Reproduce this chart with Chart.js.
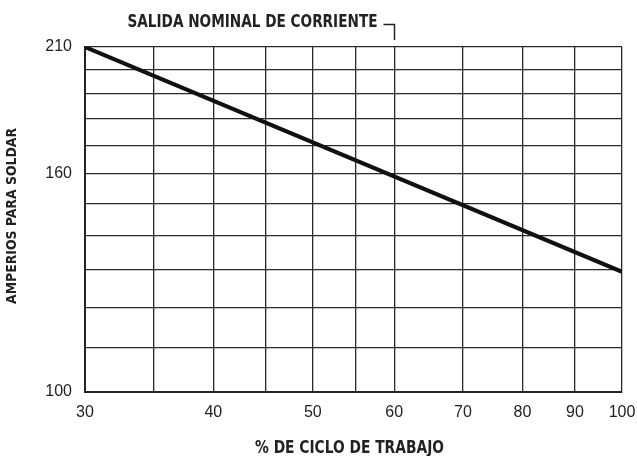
<!DOCTYPE html>
<html>
<head>
<meta charset="utf-8">
<script src="https://cdn.jsdelivr.net/npm/chart.js@4"></script>
<style>
  html, body { margin: 0; padding: 0; background: #fff; }
  #wrap { width: 637px; height: 456px; }
</style>
</head>
<body>
<div id="wrap"><canvas id="dutyChart"></canvas></div>
<script>
// datos (escala log-log)
const cicloTrabajo = [30, 100];
const amperios = [210, 129.5];

const xGrid = [30, 35, 40, 45, 50, 55, 60, 70, 80, 90, 100];
const xLabels = [30, 40, 50, 60, 70, 80, 90, 100];
const yGrid = [100, 110, 120, 130, 140, 150, 160, 170, 180, 190, 200, 210];
const yLabels = [100, 160, 210];

const nominal = 60; // salida nominal de corriente

const condensed = '"DejaVu Sans Condensed", "DejaVu Sans", sans-serif';
const regular = '"Liberation Sans", Arial, sans-serif';

// texto estrecho: se comprime en horizontal hasta el ancho dado
function narrowText(ctx, text, x, y, width) {
    const w = ctx.measureText(text).width;
    ctx.save();
    ctx.translate(x, y);
    ctx.scale(width / w, 1);
    ctx.textAlign = "center";
    ctx.textBaseline = "middle";
    ctx.fillText(text, 0, 0);
    ctx.restore();
}

// titulos y la marca de salida nominal
const textPlugin = {
    id: "textos",
    afterDraw(chart) {
        const ctx = chart.ctx;
        const x = chart.scales.x;
        const xn = Math.round(x.getPixelForValue(nominal)) + 0.5;

        ctx.save();
        ctx.fillStyle = "#222";
        ctx.strokeStyle = "#222";
        ctx.lineWidth = 1.5;

        ctx.beginPath();
        ctx.moveTo(xn - 11, 24.5);
        ctx.lineTo(xn, 24.5);
        ctx.lineTo(xn, 40);
        ctx.stroke();

        ctx.font = "bold 18px " + condensed;
        narrowText(ctx, "SALIDA NOMINAL DE CORRIENTE", xn - 17 - 125, 22, 250);

        ctx.font = "bold 17px " + condensed;
        narrowText(ctx, "% DE CICLO DE TRABAJO", 349.5, 448.5, 189);

        ctx.translate(12.5, 216);
        ctx.rotate(-Math.PI / 2);
        ctx.font = "bold 14px " + condensed;
        narrowText(ctx, "AMPERIOS PARA SOLDAR", 0, 0, 176);
        ctx.restore();
    }
};

new Chart(document.getElementById("dutyChart"), {
    type: "line",
    data: {
        datasets: [{
            data: cicloTrabajo.map((v, i) => ({ x: v, y: amperios[i] })),
            borderColor: "#111",
            borderWidth: 4,
            pointRadius: 0,
            fill: false,
            tension: 0
        }]
    },
    options: {
        responsive: true,
        maintainAspectRatio: false,
        animation: false,
        layout: { padding: { top: 47, right: 15, left: 0, bottom: 0 } },
        plugins: {
            legend: { display: false },
            tooltip: { enabled: false }
        },
        scales: {
            x: {
                type: "logarithmic",
                min: 30,
                max: 100,
                afterBuildTicks: s => { s.ticks = xGrid.map(v => ({ value: v })); },
                afterFit: s => { s.height = 64; s.paddingLeft = 0; s.paddingRight = 0; },
                grid: { color: "#2a2a2a", lineWidth: 1.3, drawTicks: false },
                border: { color: "#222", width: 2 },
                ticks: {
                    autoSkip: false,
                    maxRotation: 0,
                    padding: 11,
                    color: "#222",
                    font: { family: regular, size: 16 },
                    callback: v => xLabels.includes(v) ? String(v) : ""
                }
            },
            y: {
                type: "logarithmic",
                min: 100,
                max: 210,
                afterBuildTicks: s => { s.ticks = yGrid.map(v => ({ value: v })); },
                afterFit: s => { s.width = 85; s.paddingTop = 0; s.paddingBottom = 0; },
                grid: { color: "#2a2a2a", lineWidth: 1.3, drawTicks: false },
                border: { color: "#222", width: 2 },
                ticks: {
                    autoSkip: false,
                    padding: 13,
                    color: "#222",
                    font: { family: regular, size: 16 },
                    callback: v => yLabels.includes(v) ? String(v) : ""
                }
            }
        }
    },
    plugins: [textPlugin]
});
</script>
</body>
</html>
